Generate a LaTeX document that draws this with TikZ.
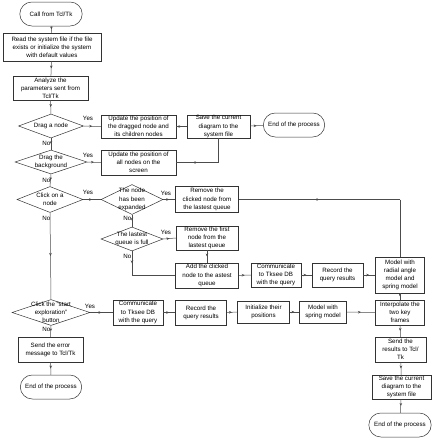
\documentclass[tikz,border=0pt]{standalone}
\usepackage{fontspec}
\setmainfont{Liberation Sans}
\usetikzlibrary{shapes.geometric,shapes.misc,arrows.meta,decorations.markings}
\tikzset{
  base/.style={draw=black!80, line width=0.5pt, font=\fontsize{6.2}{8.2}\selectfont, align=center, inner sep=0.3pt},
  box/.style={base, rectangle, minimum width=#1},
  term/.style={base, rounded rectangle, minimum width=63pt, minimum height=24pt},
  dia/.style={base, diamond, inner sep=0pt},
  dtext/.style={font=\fontsize{6.2}{8.2}\selectfont, align=center, inner sep=0pt},
  conn/.style={draw=black!70, line width=0.5pt},
  marr/.style={postaction={decorate,decoration={markings,mark=at position 0.5 with {\arrow{Stealth[length=3pt,width=2.6pt]}}}}},
  yn/.style={font=\fontsize{6.2}{7}\selectfont, inner sep=0.5pt},
}
\begin{document}
\begin{tikzpicture}[x=1pt,y=-1pt]
\useasboundingbox (0,0) rectangle (432,439);
% left column
\node[term] (call) at (51,14) {Call from Tcl/Tk};
\node[box=98pt, minimum height=28pt] (read) at (52,47) {Read the system file if the file\\exists or initialize the system\\with default values};
\node[box=75pt, minimum height=24pt] (analyze) at (50.5,88) {Analyze the\\parameters sent from\\Tcl/Tk};
\node[dia, minimum width=65pt, minimum height=24pt, label={[dtext]center:Drag a node}] (dnode) at (51,126) {};
\node[box=75pt, minimum height=23pt] (upd1) at (138.5,126.5) {Update the position of\\the dragged node and\\its children nodes};
\node[box=63pt, minimum height=23pt] (save1) at (218.5,126.5) {Save the current\\diagram to the\\system file};
\node[term, minimum width=62pt] (end1) at (294,125) {End of the process};
\node[dia, minimum width=72pt, minimum height=24pt, label={[dtext]center:Drag the\\background}] (dbg) at (51,162) {};
\node[box=75pt, minimum height=25pt] (upd2) at (138.5,162.5) {Update the position of\\all nodes on the\\screen};
\node[dia, minimum width=66pt, minimum height=26pt, label={[dtext]center:Click on a\\node}] (cnode) at (50,199.5) {};
\node[dia, minimum width=62pt, minimum height=30pt, label={[dtext]center:The node\\has been\\expanded}] (exp) at (132,199.5) {};
\node[box=63pt, minimum height=26pt] (rem1) at (207,199.5) {Remove the\\clicked node from\\the lastest queue};
\node[dia, minimum width=62pt, minimum height=24pt, label={[dtext]center:The lastest\\queue is full}] (full) at (132,239) {};
\node[box=62pt, minimum height=24pt] (rem2) at (207,238) {Remove the first\\node from the\\lastest queue};
\node[box=63pt, minimum height=25pt] (add) at (207,275.5) {Add the clicked\\node to the astest\\queue};
\node[box=50pt, minimum height=24pt] (comm1) at (276,275) {Communicate\\to Tksee DB\\with the query};
\node[box=51pt, minimum height=24pt] (rec1) at (337.5,275) {Record the\\query results};
\node[box=49pt, minimum height=36pt] (radial) at (400,275) {Model with\\radial angle\\model and\\spring model};
\node[box=49pt, minimum height=25pt] (interp) at (400,312.5) {Interpolate the\\two key\\frames};
\node[box=47pt, minimum height=22pt] (spring) at (323,312) {Model with\\spring model};
\node[box=52pt, minimum height=22pt] (init) at (263.5,312) {Initialize their\\positions};
\node[box=51pt, minimum height=25pt] (rec2) at (201,312.5) {Record the\\query results};
\node[box=50pt, minimum height=25pt] (comm2) at (138,312.5) {Communicate\\to Tksee DB\\with the query};
\node[dia, minimum width=78pt, minimum height=26pt, label={[dtext]center:Click the "start\\exploration"\\button}] (start) at (51,312.5) {};
\node[box=65pt, minimum height=25pt] (err) at (50.5,349.5) {Send the error\\message to Tcl/Tk};
\node[term, minimum width=62pt] (end2) at (51,387) {End of the process};
\node[box=51pt, minimum height=25pt] (send) at (400.5,349.5) {Send the\\results to Tcl/\\Tk};
\node[box=59pt, minimum height=24pt] (save2) at (401.5,387) {Save the current\\diagram to the\\system file};
\node[term, minimum width=63pt] (end3) at (400,425) {End of the process};
% connectors
\draw[conn,marr] (call) -- (read);
\draw[conn,marr] (read) -- (analyze);
\draw[conn,marr] (analyze) -- (dnode);
\draw[conn,marr] (dnode.east) -- (upd1.west);
\draw[conn,marr] (upd1) -- (save1);
\draw[conn,marr] (save1) -- (end1);
\draw[conn,marr] (dnode.south) -- (dbg.north);
\draw[conn,marr] (dbg.east) -- (upd2.west);
\draw[conn,marr] (upd2.east) -- (upd2.east -| save1.south);
\draw[conn] (upd2.east -| save1.south) -- (save1.south);
\draw[conn,marr] (dbg.south) -- (cnode.north);
\draw[conn,marr] (cnode.east) -- (exp.west);
\draw[conn,marr] (cnode.south) -- (start.north);
\draw[conn,marr] (exp.east) -- (rem1.west);
\draw[conn,marr] (rem1.east) -- (rem1.east -| radial.north);
\draw[conn] (rem1.east -| radial.north) -- (radial.north);
\draw[conn,marr] (exp.south) -- (full.north);
\draw[conn,marr] (full.east) -- (rem2.west);
\draw[conn,marr] (rem2) -- (add);
\draw[conn,marr] (full.south) -- (full.south |- add.west);
\draw[conn] (full.south |- add.west) -- (add.west);
\draw[conn,marr] (add) -- (comm1);
\draw[conn,marr] (comm1) -- (rec1);
\draw[conn,marr] (rec1) -- (radial);
\draw[conn,marr] (radial) -- (interp);
\draw[conn,marr] (start.east) -- (comm2.west);
\draw[conn,marr] (comm2) -- (rec2);
\draw[conn,marr] (rec2) -- (init);
\draw[conn,marr] (init) -- (spring);
\draw[conn,marr] (spring) -- (interp);
\draw[conn,marr] (interp) -- (send);
\draw[conn,marr] (send) -- (save2);
\draw[conn,marr] (save2) -- (end3);
\draw[conn,marr] (start.south) -- (err.north);
\draw[conn,marr] (err) -- (end2);
% yes / no labels
\node[yn] (y1) at (88,118) {Yes};
\node[yn,anchor=east] (n1) at (51,143.5) {No};
\node[yn] (y2) at (88,155) {Yes};
\node[yn,anchor=east] (n2) at (51,180.5) {No};
\node[yn] (y3) at (88,192.5) {Yes};
\node[yn,anchor=east] (n3) at (51,218.5) {No};
\node[yn] (y4) at (166,193) {Yes};
\node[yn,anchor=east] (n4) at (132,218.5) {No};
\node[yn] (y5) at (166,232) {Yes};
\node[yn,anchor=east] (n5) at (132,256) {No};
\node[yn] (y6) at (90,306) {Yes};
\node[yn,anchor=east] (n6) at (51,329.5) {No};
\end{tikzpicture}
\end{document}
